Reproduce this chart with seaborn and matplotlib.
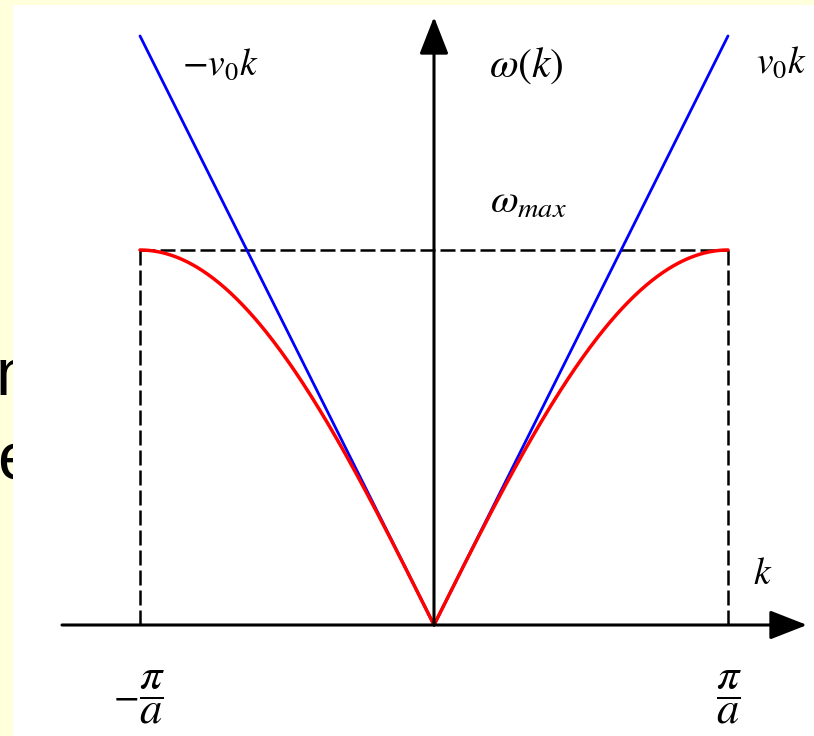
import numpy as np
import matplotlib
matplotlib.use("Agg")
import matplotlib.pyplot as plt
import seaborn as sns

sns.set_style("white")
plt.rcParams["mathtext.fontset"] = "stix"
plt.rcParams["font.family"] = ["DejaVu Sans"]
plt.rcParams["text.color"] = "black"

# Monatomic chain: lattice constant and top of the acoustic band (reduced units)
a = 1.0
omega_max = 1.0
v0 = omega_max * a / 2          # sound velocity = long-wavelength slope
k_edge = np.pi / a              # Brillouin-zone boundary

# dispersion relation omega(k) = omega_max |sin(ka/2)|
k_curve = np.linspace(-k_edge, k_edge, 401)
omega_curve = omega_max * np.abs(np.sin(k_curve * a / 2))

# linear (continuum) approximations  +/- v0 k
k_left = [-k_edge, 0.0]
w_left = [v0 * k_edge, 0.0]
k_right = [0.0, k_edge]
w_right = [0.0, v0 * k_edge]

W, H, DPI = 814, 736, 100
fig = plt.figure(figsize=(W / DPI, H / DPI), dpi=DPI)
fig.patch.set_facecolor("#FFFFDC")

def fx(px):
    return px / W

def fy(py):
    return 1 - py / H

# slide text peeking out from behind the panel
slide = dict(fontsize=48, family=["Liberation Sans", "DejaVu Sans"],
             color="black", va="baseline", ha="left", zorder=-1)
fig.text(fx(-4), fy(395), "n", **slide)
fig.text(fx(-3), fy(479), "e", **slide)

ax = fig.add_axes([fx(13), 0, 1 - fx(13), 1 - 5 / H])
ax.set_facecolor("white")
for s in ax.spines.values():
    s.set_visible(False)
ax.set_xticks([])
ax.set_yticks([])

# pixel scale: pi/a -> 294 px, omega_max -> 375 px, origin at (434, 625)
xpx, ypx = 294 / k_edge, 375 / omega_max
ax.set_xlim((13 - 434) / xpx, (814 - 434) / xpx)
ax.set_ylim((625 - 736) / ypx, (625 - 5) / ypx)

# axes with arrows
arrow = dict(arrowstyle="-|>,head_length=1.15,head_width=0.45", lw=2.2,
             color="black", shrinkA=0, shrinkB=0, mutation_scale=20)
ax.annotate("", xy=((807 - 434) / xpx, 0), xytext=((62 - 434) / xpx, 0),
            arrowprops=arrow)
ax.annotate("", xy=(0, (625 - 17) / ypx), xytext=(0, 0), arrowprops=arrow)

# Brillouin-zone box
dash = (0, (6, 2))
ax.plot([-k_edge, -k_edge], [0, omega_max], color="black", lw=1.8, ls=dash)
ax.plot([k_edge, k_edge], [0, omega_max], color="black", lw=1.8, ls=dash)
ax.plot([-k_edge, k_edge], [omega_max, omega_max], color="black", lw=1.8, ls=dash)

sns.lineplot(x=k_left, y=w_left, ax=ax, color="#0000FF", lw=2.0,
             sort=False, estimator=None)
sns.lineplot(x=k_right, y=w_right, ax=ax, color="#0000FF", lw=2.0,
             sort=False, estimator=None)
sns.lineplot(x=k_curve, y=omega_curve, ax=ax, color="#FF0000", lw=2.5,
             sort=False, estimator=None)

lab = dict(fontsize=27, color="black", ha="center", va="center")
fig.text(fx(220), fy(65), r"$-v_0k$", **lab)
fig.text(fx(526), fy(65), r"$\omega(k)$", **{**lab, "fontsize": 30})
fig.text(fx(781), fy(63), r"$v_0k$", **lab)
fig.text(fx(528), fy(202), r"$\omega_{max}$", **{**lab, "fontsize": 29})
fig.text(fx(763), fy(574), r"$k$", **lab)
frac = {**lab, "fontsize": 32}
fig.text(fx(152), fy(697), r"$\dfrac{\pi}{a}$", **frac)
fig.text(fx(126), fy(697), r"$-$", **lab)
fig.text(fx(729), fy(697), r"$\dfrac{\pi}{a}$", **frac)

fig.savefig("out.png", dpi=DPI)
